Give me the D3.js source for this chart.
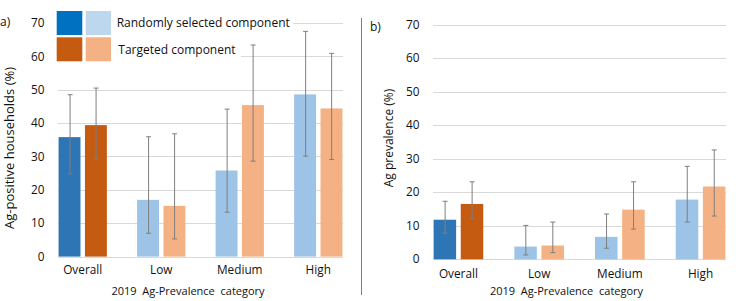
<!DOCTYPE html>
<html>
<head>
<meta charset="utf-8">
<script src="https://cdn.jsdelivr.net/npm/d3@7"></script>
<style>
  body { margin: 0; background: #fff; }
  svg { display: block; font-family: "Open Sans", sans-serif; }
</style>
</head>
<body>
<svg id="chart" width="744" height="301"></svg>
<script>
// values
const categories = ["Overall", "Low", "Medium", "High"]
const seriesNames = ["Randomly selected component", "Targeted component"]
const yTicks = [0, 10, 20, 30, 40, 50, 60, 70]

// panel a) Ag-positive households (%)
const hhRandom = [35.8, 17.0, 25.8, 48.6]
const hhRandomLow = [24.8, 7.0, 13.3, 30.1]
const hhRandomHigh = [48.5, 35.9, 44.2, 67.5]
const hhTargeted = [39.4, 15.2, 45.4, 44.4]
const hhTargetedLow = [29.2, 5.3, 28.6, 29.1]
const hhTargetedHigh = [50.5, 36.8, 63.4, 60.9]

// panel b) Ag prevalence (%)
const prevRandom = [11.8, 3.8, 6.7, 17.8]
const prevRandomLow = [7.8, 1.3, 3.3, 11.1]
const prevRandomHigh = [17.3, 10.1, 13.5, 27.7]
const prevTargeted = [16.5, 4.1, 14.8, 21.7]
const prevTargetedLow = [12.0, 2.0, 9.0, 12.9]
const prevTargetedHigh = [23.1, 11.1, 23.1, 32.6]

const darkCols = ["#2E75B6", "#C55A11"]
const lightCols = ["#9DC3E6", "#F4B183"]
const legendDark = ["#0070C0", "#C55A11"]
const legendLight = ["#BDD7EE", "#F4B183"]
const textCol = "#111"

const svg = d3.select("#chart")

function makeRows(vals, lows, highs) {
  // vals/lows/highs are [random, targeted]
  return categories.map((c, i) => ({
    cat: c,
    bars: [0, 1].map(s => ({ s: s, v: vals[s][i], lo: lows[s][i], hi: highs[s][i], dark: i === 0 }))
  }))
}

function panel(opt) {
  const g = svg.append("g")
  const x = d3.scaleBand().domain(categories).range(opt.xr).paddingInner(0.385).paddingOuter(0.02)
  const xs = d3.scaleBand().domain([0, 1]).range([0, x.bandwidth()]).paddingInner(0.17)
  const y = d3.scaleLinear().domain([0, 70]).range(opt.yr)

  // gridlines
  g.selectAll(".grid").data(yTicks).enter().append("line")
    .attr("x1", opt.xr[0] + 1).attr("x2", opt.xr[1] - 1)
    .attr("y1", d => Math.round(y(d)) + 0.5).attr("y2", d => Math.round(y(d)) + 0.5)
    .style("stroke", "#d9d9d9").style("stroke-width", "1px")

  // y tick labels
  g.selectAll(".tick").data(yTicks).enter().append("text")
    .attr("x", opt.tickX).attr("y", d => y(d)).attr("dy", "0.35em")
    .attr("text-anchor", "end").style("font-size", "11.8px").attr("fill", textCol)
    .text(d => d)

  const grp = g.selectAll(".cat").data(opt.rows).enter().append("g")
    .attr("transform", d => "translate(" + x(d.cat) + ",0)")

  grp.selectAll("rect").data(d => d.bars).enter().append("rect")
    .attr("x", d => xs(d.s)).attr("width", xs.bandwidth())
    .attr("y", d => y(d.v)).attr("height", d => y(0) - y(d.v))
    .attr("fill", d => d.dark ? darkCols[d.s] : lightCols[d.s])

  // error bars
  const eb = grp.selectAll(".err").data(d => d.bars).enter().append("g")
    .attr("transform", d => "translate(" + (Math.round(xs(d.s) + xs.bandwidth() / 2) + 0.5) + ",0)")
    .style("stroke", "#7f7f7f").style("stroke-width", "1px")
  eb.append("line").attr("y1", d => y(d.lo)).attr("y2", d => y(d.hi))
  eb.append("line").attr("x1", -2.5).attr("x2", 2.5).attr("y1", d => y(d.hi)).attr("y2", d => y(d.hi))
  eb.append("line").attr("x1", -2.5).attr("x2", 2.5).attr("y1", d => y(d.lo)).attr("y2", d => y(d.lo))

  // category labels
  g.selectAll(".clab").data(categories).enter().append("text")
    .attr("x", d => x(d) + x.bandwidth() / 2).attr("y", opt.catY).attr("dy", "0.35em")
    .attr("text-anchor", "middle").style("font-size", "11.8px").attr("fill", textCol)
    .text(d => d)

  g.append("text")
    .attr("x", opt.xTitleX).attr("y", 291.5).attr("dy", "0.35em")
    .attr("text-anchor", "middle").style("font-size", "11px").style("white-space", "pre")
    .attr("fill", textCol).text("2019  Ag-Prevalence  category")

  g.append("text")
    .attr("transform", "translate(" + opt.yTitleX + "," + opt.yTitleY + ") rotate(-90)")
    .attr("dy", "0.35em").attr("text-anchor", "middle").style("font-size", opt.yTitleSize)
    .attr("fill", textCol).text(opt.yTitle)

  g.append("text").attr("x", opt.tagX).attr("y", opt.tagY).attr("dy", "0.35em")
    .style("font-size", "12px").attr("fill", textCol).text(opt.tag)

  return g
}

panel({
  xr: [57, 344], yr: [256.6, 23], tickX: 44.5, catY: 270, xTitleX: 188,
  yTitle: "Ag-positive households (%)", yTitleX: 9, yTitleY: 148, yTitleSize: "13px",
  tag: "a)", tagX: 0, tagY: 22,
  rows: makeRows([hhRandom, hhTargeted], [hhRandomLow, hhTargetedLow], [hhRandomHigh, hhTargetedHigh])
})

panel({
  xr: [432, 727], yr: [259.3, 24.5], tickX: 419.5, catY: 274, xTitleX: 566.5,
  yTitle: "Ag prevalence (%)", yTitleX: 389, yTitleY: 138, yTitleSize: "12px",
  tag: "b)", tagX: 370, tagY: 26.5,
  rows: makeRows([prevRandom, prevTargeted], [prevRandomLow, prevTargetedLow], [prevRandomHigh, prevTargetedHigh])
})

// separator between panels
svg.append("line").attr("x1", 361.5).attr("x2", 361.5).attr("y1", 18).attr("y2", 295)
  .style("stroke", "#808080").style("stroke-width", "1px")

// legend (drawn over panel a, white background per row)
const legRows = [
  { name: seriesNames[0], y: 11, textX: 116.7, bgW: 238 },
  { name: seriesNames[1], y: 37.3, textX: 118.3, bgW: 186 }
]
const leg = svg.append("g")
legRows.forEach((r, i) => {
  leg.append("rect").attr("x", 55).attr("y", r.y - 2).attr("width", r.bgW).attr("height", 28).attr("fill", "#fff")
  leg.append("rect").attr("x", 56.7).attr("y", r.y).attr("width", 25.6).attr("height", 24).attr("fill", legendDark[i])
  leg.append("rect").attr("x", 85.7).attr("y", r.y).attr("width", 25.3).attr("height", 24).attr("fill", legendLight[i])
  leg.append("text").attr("x", r.textX).attr("y", r.y + 12).attr("dy", "0.35em")
    .style("font-size", "12px").attr("fill", textCol).text(r.name)
})
</script>
</body>
</html>
